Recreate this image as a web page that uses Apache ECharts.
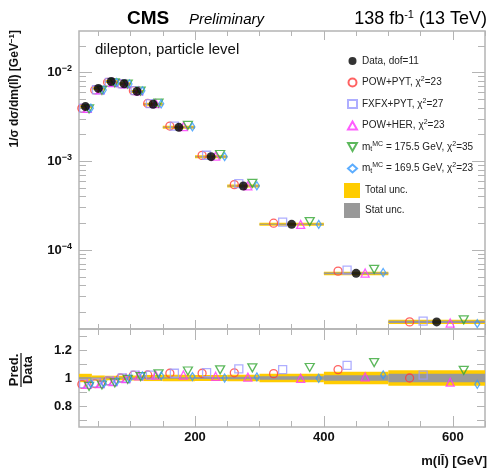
<!DOCTYPE html>
<html>
<head>
<meta charset="utf-8">
<script src="https://cdn.jsdelivr.net/npm/echarts@6/dist/echarts.min.js"></script>
<style>
  html, body { margin: 0; padding: 0; background: #fff; }
  #chart { width: 489px; height: 469px; }
</style>
</head>
<body>
<div id="chart"></div>
<script>
// m(ll) bins [GeV]
const binLo = [20, 40, 60, 80, 100, 120, 150, 200, 250, 300, 400, 500];
const binHi = [40, 60, 80, 100, 120, 150, 200, 250, 300, 400, 500, 650];

// measured 1/sigma dsigma/dm(ll) [GeV^-1]
const dataVal = [4.15e-3, 6.65e-3, 7.95e-3, 7.5e-3, 6.15e-3, 4.4e-3, 2.42e-3, 1.13e-3, 5.27e-4, 1.95e-4, 5.46e-5, 1.55e-5];
// relative uncertainties
const totUnc  = [0.030, 0.018, 0.016, 0.016, 0.018, 0.022, 0.024, 0.022, 0.024, 0.030, 0.045, 0.056];
const statUnc = [0.006, 0.004, 0.004, 0.004, 0.004, 0.005, 0.006, 0.007, 0.009, 0.012, 0.020, 0.030];

// prediction / data
const rPowPyt  = [0.955, 0.960, 0.980, 1.000, 1.020, 1.022, 1.034, 1.034, 1.037, 1.031, 1.060, 1.000];
const rFxfxPyt = [0.960, 0.965, 0.980, 1.000, 1.020, 1.020, 1.034, 1.038, 1.065, 1.060, 1.090, 1.021];
const rPowHer  = [0.955, 0.960, 0.975, 0.995, 1.015, 1.020, 1.021, 1.012, 1.006, 0.998, 1.008, 0.970];
const rMt1755  = [0.940, 0.950, 0.965, 0.990, 1.010, 1.030, 1.050, 1.058, 1.073, 1.075, 1.110, 1.055];
const rMt1695  = [0.960, 0.960, 0.975, 0.995, 1.015, 1.015, 1.010, 1.000, 1.008, 0.998, 1.022, 0.955];

// ticks
const xMinorTicks = [50, 100, 150, 200, 250, 300, 350, 400, 450, 500, 550, 600, 650];
const xMajorTicks = [200, 400, 600];
const yMajorTicks = [-4, -3, -2];          // log10 of 1e-4, 1e-3, 1e-2
const rTicks = [0.7, 0.8, 0.9, 1.0, 1.1, 1.2, 1.3];
const rLabels = [0.8, 1, 1.2];

const X_MIN = 20, X_MAX = 650;
const Y_MIN = -4.89, Y_MAX = -1.53;
const R_MIN = 0.65, R_MAX = 1.35;
const FONT = 'Liberation Sans';
const FRAME = '#b4b4b4';
const DOWN_TRI = 'path://M0,0L10,0L5,9Z';

const yMinorTicks = [];
for (let n = -5; n <= -2; n++) {
  for (let k = 2; k <= 9; k++) {
    const v = n + Math.log10(k);
    if (v > Y_MIN && v < Y_MAX) yMinorTicks.push(v);
  }
}

const preds = [
  { name: 'POW+PYT',  ratio: rPowPyt,  symbol: 'circle',   rotate: 0,   color: '#ff3b3b', size: 8,      frac: 0.22 },
  { name: 'FXFX+PYT', ratio: rFxfxPyt, symbol: 'rect',     rotate: 0,   color: '#9a9aff', size: 8,      frac: 0.36 },
  { name: 'POW+HER',  ratio: rPowHer,  symbol: 'triangle', rotate: 0,   color: '#ff33ff', size: 8,      frac: 0.64 },
  { name: 'mt 175.5', ratio: rMt1755,  symbol: DOWN_TRI,   rotate: 0,   color: '#33a633', size: [9, 8], frac: 0.78 },
  { name: 'mt 169.5', ratio: rMt1695,  symbol: 'diamond',  rotate: 0,   color: '#3399ff', size: [5, 8], frac: 0.92 }
];

function xAxisDef(grid, pos, len, ticks, labels) {
  return {
    type: 'value', gridIndex: grid, position: pos, min: X_MIN, max: X_MAX,
    axisLine: { show: false, onZero: false },
    splitLine: { show: false },
    axisTick: { inside: true, length: len, customValues: ticks, lineStyle: { color: FRAME, width: 1 } },
    axisLabel: labels
      ? { customValues: labels, margin: 4, fontFamily: FONT, fontSize: 13, fontWeight: 'bold', color: '#111' }
      : { show: false }
  };
}

function yAxisDef(grid, pos, min, max, len, ticks, labels, fmt) {
  return {
    type: 'value', gridIndex: grid, position: pos, min: min, max: max,
    axisLine: { show: false, onZero: false },
    splitLine: { show: false },
    axisTick: { inside: true, length: len, customValues: ticks, lineStyle: { color: FRAME, width: 1 } },
    axisLabel: labels
      ? {
          customValues: labels, margin: 7, formatter: fmt, color: '#111',
          fontFamily: FONT, fontSize: 13, fontWeight: 'bold',
          rich: {
            b: { fontFamily: FONT, fontSize: 13, fontWeight: 'bold', color: '#111' },
            s: { fontFamily: FONT, fontSize: 9, fontWeight: 'bold', color: '#111', padding: [0, 0, 8, 0] }
          }
        }
      : { show: false }
  };
}

function bandSeries(name, color, rel, xi, yi, toY, minH) {
  return {
    name: name, type: 'custom', xAxisIndex: xi, yAxisIndex: yi, z: 1,
    itemStyle: { color: color },
    encode: { x: [0, 1], y: [2, 3] },
    renderItem: function (params, api) {
      const p0 = api.coord([api.value(0), api.value(3)]);
      const p1 = api.coord([api.value(1), api.value(2)]);
      let y = p0[1], h = p1[1] - p0[1];
      if (h < minH) { y -= (minH - h) / 2; h = minH; }
      return { type: 'rect', shape: { x: p0[0], y: y, width: p1[0] - p0[0], height: h }, style: { fill: color } };
    },
    data: binLo.map(function (lo, i) { return [lo, binHi[i], toY(i, 1 - rel[i]), toY(i, 1 + rel[i])]; })
  };
}

const upperY = function (i, r) { return Math.log10(dataVal[i] * r); };
const ratioY = function (i, r) { return r; };

const series = [
  bandSeries('Total unc.', '#ffcc00', totUnc, 0, 0, upperY, 3),
  bandSeries('Stat unc.', '#999999', statUnc, 0, 0, upperY, 1),
  bandSeries('Total unc.', '#ffcc00', totUnc, 4, 4, ratioY, 0),
  bandSeries('Stat unc.', '#999999', statUnc, 4, 4, ratioY, 0)
];

preds.forEach(function (p) {
  const style = { color: 'rgba(255,255,255,0)', borderColor: p.color, borderWidth: 1.3 };
  const xs = binLo.map(function (lo, i) { return lo + p.frac * (binHi[i] - lo); });
  series.push({
    name: p.name, type: 'scatter', xAxisIndex: 0, yAxisIndex: 0, z: 2,
    symbol: p.symbol, symbolRotate: p.rotate, symbolSize: p.size, itemStyle: style,
    data: xs.map(function (x, i) { return [x, upperY(i, p.ratio[i])]; })
  });
  series.push({
    name: p.name, type: 'scatter', xAxisIndex: 4, yAxisIndex: 4, z: 2,
    symbol: p.symbol, symbolRotate: p.rotate, symbolSize: p.size, itemStyle: style,
    data: xs.map(function (x, i) { return [x, p.ratio[i]]; })
  });
});

series.push({
  name: 'Data', type: 'scatter', xAxisIndex: 0, yAxisIndex: 0, z: 3,
  symbol: 'circle', symbolSize: 9, itemStyle: { color: '#000' },
  data: binLo.map(function (lo, i) { return [(lo + binHi[i]) / 2, Math.log10(dataVal[i])]; })
});

const legendText = {
  'Data': 'Data, dof=11',
  'POW+PYT': 'POW+PYT, χ{s|2}=23',
  'FXFX+PYT': 'FXFX+PYT, χ{s|2}=27',
  'POW+HER': 'POW+HER, χ{s|2}=23',
  'mt 175.5': 'm{b|t}{s|MC} = 175.5 GeV, χ{s|2}=35',
  'mt 169.5': 'm{b|t}{s|MC} = 169.5 GeV, χ{s|2}=23'
};
const legendStyle = {
  fontFamily: FONT, fontSize: 10, color: '#222', lineHeight: 14,
  rich: {
    s: { fontFamily: FONT, fontSize: 7, color: '#222', padding: [0, 0, 6, 0] },
    b: { fontFamily: FONT, fontSize: 7, color: '#222', padding: [5, 0, 0, 0] }
  }
};

const chart = echarts.init(document.getElementById('chart'));
chart.setOption({
  animation: false,
  textStyle: { fontFamily: FONT },
  grid: [
    { left: 79, right: 4, top: 31, height: 298, show: true, borderColor: FRAME, borderWidth: 1.5 },
    { left: 79, right: 4, top: 329, height: 98, show: true, borderColor: FRAME, borderWidth: 1.5 }
  ],
  xAxis: [
    xAxisDef(0, 'bottom', 5, xMinorTicks),
    xAxisDef(0, 'bottom', 9, xMajorTicks),
    xAxisDef(0, 'top', 5, xMinorTicks),
    xAxisDef(0, 'top', 9, xMajorTicks),
    xAxisDef(1, 'bottom', 6, xMinorTicks),
    xAxisDef(1, 'bottom', 11, xMajorTicks, xMajorTicks),
    xAxisDef(1, 'top', 6, xMinorTicks),
    xAxisDef(1, 'top', 11, xMajorTicks)
  ],
  yAxis: [
    yAxisDef(0, 'left', Y_MIN, Y_MAX, 13, yMajorTicks, yMajorTicks, function (v) {
      return '{b|10}{s|−' + Math.abs(Math.round(v)) + '}';
    }),
    yAxisDef(0, 'left', Y_MIN, Y_MAX, 7, yMinorTicks),
    yAxisDef(0, 'right', Y_MIN, Y_MAX, 13, yMajorTicks),
    yAxisDef(0, 'right', Y_MIN, Y_MAX, 7, yMinorTicks),
    yAxisDef(1, 'left', R_MIN, R_MAX, 8, rTicks, rLabels, function (v) { return String(v); }),
    yAxisDef(1, 'right', R_MIN, R_MAX, 8, rTicks)
  ],
  legend: [
    {
      orient: 'vertical', left: 342, top: 49, itemWidth: 9, itemHeight: 8, itemGap: 7.5,
      selectedMode: false,
      data: ['Data', 'POW+PYT', 'FXFX+PYT', 'POW+HER', 'mt 175.5', 'mt 169.5'],
      formatter: function (n) { return legendText[n]; },
      textStyle: legendStyle
    },
    {
      orient: 'vertical', left: 339, top: 178, itemWidth: 16, itemHeight: 15, itemGap: 5,
      selectedMode: false,
      data: [{ name: 'Total unc.', icon: 'rect' }, { name: 'Stat unc.', icon: 'rect' }],
      textStyle: legendStyle
    }
  ],
  graphic: [
    { type: 'text', x: 127, y: 19, style: { text: 'CMS', fill: '#000', font: 'bold 19px "Liberation Sans"', textAlign: 'left', textVerticalAlign: 'middle' } },
    { type: 'text', x: 189, y: 20, style: { text: 'Preliminary', fill: '#000', font: 'italic 15px "Liberation Sans"', textAlign: 'left', textVerticalAlign: 'middle' } },
    {
      type: 'text', x: 487, y: 19,
      style: {
        text: '138 fb{s|-1} (13 TeV)', fill: '#000', font: '18px "Liberation Sans"',
        textAlign: 'right', textVerticalAlign: 'middle',
        rich: { s: { font: '11px "Liberation Sans"', fill: '#000', padding: [0, 0, 9, 0] } }
      }
    },
    { type: 'text', x: 95, y: 50, style: { text: 'dilepton, particle level', fill: '#111', font: '15px "Liberation Sans"', textAlign: 'left', textVerticalAlign: 'middle' } },
    {
      type: 'text', x: 15, y: 30, rotation: Math.PI / 2,
      style: {
        text: '1/σ dσ/dm(ll̄) [GeV{s|−1}]', fill: '#111', font: 'bold 12px "Liberation Sans"',
        textAlign: 'right', textVerticalAlign: 'middle',
        rich: { s: { font: 'bold 8px "Liberation Sans"', fill: '#111', padding: [0, 0, 7, 0] } }
      }
    },
    { type: 'text', x: 487, y: 461, style: { text: 'm(ll̄) [GeV]', fill: '#111', font: 'bold 13px "Liberation Sans"', textAlign: 'right', textVerticalAlign: 'middle' } },
    {
      type: 'group', x: 21, y: 370, rotation: Math.PI / 2,
      children: [
        { type: 'text', x: 0, y: -7, style: { text: 'Pred.', fill: '#111', font: 'bold 13px "Liberation Sans"', textAlign: 'center', textVerticalAlign: 'middle' } },
        { type: 'line', shape: { x1: -17, y1: 0, x2: 17, y2: 0 }, style: { stroke: '#111', lineWidth: 1.2 } },
        { type: 'text', x: 0, y: 7, style: { text: 'Data', fill: '#111', font: 'bold 13px "Liberation Sans"', textAlign: 'center', textVerticalAlign: 'middle' } }
      ]
    }
  ],
  series: series
});
</script>
</body>
</html>
